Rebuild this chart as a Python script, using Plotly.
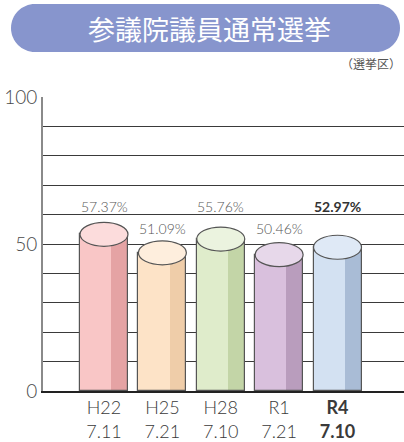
import plotly.graph_objects as go

# ---- data ----
categories = ["H22<br>7.11", "H25<br>7.21", "H28<br>7.10", "R1<br>7.21", "<b>R4<br>7.10</b>"]
turnout = [57.37, 51.09, 55.76, 50.46, 52.97]
value_labels = ["57.37%", "51.09%", "55.76%", "50.46%", "<b>52.97%</b>"]
y_tick_vals = [0, 50, 100]
y_tick_text = ["0", "50", "100"]

# ---- styles ----
light_cols = ["#f9c6c6", "#fde3c7", "#dfeccb", "#d9c0dd", "#d3e1f2"]
dark_cols = ["#e5a3a4", "#efcda9", "#c3d5a7", "#b99dbd", "#a9bcd6"]
top_cols = ["#fcdcdc", "#feeedd", "#ebf3df", "#e7d8ea", "#dfe9f6"]
outline = "#555555"

W, H = 404, 442
L, R, T, B = 43, 0, 97, 51
PW, PH = W - L - R, H - T - B
YMAX = 100.0
XR = (-1.045, 5.139)
unit_px = PW / (XR[1] - XR[0])
BAR_W = 48 / unit_px
DARK_W = 16.7 / unit_px
RY = 12 / (PH / YMAX)  # ellipse half height in data units
LABEL_ROWS = [62.9, 55.4]

x_idx = list(range(len(turnout)))
body_top = [v - RY for v in turnout]

fig = go.Figure()
fig.add_trace(go.Bar(x=x_idx, y=body_top, width=BAR_W, marker=dict(color=light_cols, line=dict(width=0)),
                     hoverinfo="skip", showlegend=False))
fig.add_trace(go.Bar(x=x_idx, y=body_top, width=DARK_W, offset=BAR_W / 2 - DARK_W,
                     marker=dict(color=dark_cols, line=dict(width=0)), hoverinfo="skip", showlegend=False))
fig.add_trace(go.Bar(x=x_idx, y=body_top, width=BAR_W, marker=dict(color="rgba(0,0,0,0)", line=dict(color=outline, width=1.2)),
                     customdata=turnout, hovertemplate="%{customdata}%<extra></extra>", showlegend=False))

shapes = []
for i, v in enumerate(turnout):
    shapes.append(dict(type="circle", xref="x", yref="y", x0=i - BAR_W / 2, x1=i + BAR_W / 2,
                       y0=v - 2 * RY, y1=v, fillcolor=top_cols[i], line=dict(color=outline, width=1.2), layer="above"))

# title pill (pixel -> paper)
def px(p):
    return (p - L) / PW

def py(p):
    return (H - B - p) / PH

x0p, x1p, y0p, y1p, r = 11, 400, 4, 52, 24
k = 0.5523
cy = (y0p + y1p) / 2
pts = [
    ("M", [(x0p + r, y0p)]),
    ("L", [(x1p - r, y0p)]),
    ("C", [(x1p - r + k * r, y0p), (x1p, cy - k * r), (x1p, cy)]),
    ("C", [(x1p, cy + k * r), (x1p - r + k * r, y1p), (x1p - r, y1p)]),
    ("L", [(x0p + r, y1p)]),
    ("C", [(x0p + r - k * r, y1p), (x0p, cy + k * r), (x0p, cy)]),
    ("C", [(x0p, cy - k * r), (x0p + r - k * r, y0p), (x0p + r, y0p)]),
]
path = ""
for cmd, ps in pts:
    path += cmd + " ".join(f"{px(a):.5f},{py(b):.5f}" for a, b in ps) + " "
path += "Z"
shapes.append(dict(type="path", xref="paper", yref="paper", path=path, fillcolor="#8795cd", line=dict(width=0), layer="below"))

annotations = [
    dict(x=px(209), y=py(cy + 1), xref="paper", yref="paper", text="参議院議員通常選挙", showarrow=False,
         font=dict(family="Noto Sans CJK JP", size=27, color="white"), xanchor="center", yanchor="middle"),
    dict(x=px(403), y=py(63), xref="paper", yref="paper", text="（選挙区）", showarrow=False,
         font=dict(family="Noto Sans CJK JP", size=12, color="#555555"), xanchor="right", yanchor="middle"),
]
for i, t in enumerate(value_labels):
    bold = t.startswith("<b>")
    annotations.append(dict(x=i, y=LABEL_ROWS[i % 2], xref="x", yref="y", text=t, showarrow=False,
                            font=dict(family="Lato", size=14, weight=300, color="#333333" if bold else "#555555"),
                            xanchor="center", yanchor="middle"))

fig.update_layout(
    width=W, height=H, margin=dict(l=L, r=R, t=T, b=B),
    paper_bgcolor="white", plot_bgcolor="white", barmode="overlay", bargap=0,
    shapes=shapes, annotations=annotations,
    xaxis=dict(range=list(XR), tickvals=x_idx, ticktext=categories, showgrid=False, zeroline=False,
               showline=True, linecolor="#222222", linewidth=1.5, ticks="",
               tickfont=dict(family="Lato", size=18, weight=300, color="#3a3a3a"), fixedrange=True),
    yaxis=dict(range=[0, YMAX], tickvals=y_tick_vals, ticktext=y_tick_text, showgrid=True, gridcolor="#3a3a3a", gridwidth=1.3,
               zeroline=False, showline=True, linecolor="#8a8a8a", linewidth=2, ticks="",
               tickfont=dict(family="Lato", size=19, weight=300, color="#4a4a4a"),
               minor=dict(dtick=10, showgrid=True, gridcolor="#3a3a3a", gridwidth=1.3), fixedrange=True),
)
fig.write_html("out.html")
